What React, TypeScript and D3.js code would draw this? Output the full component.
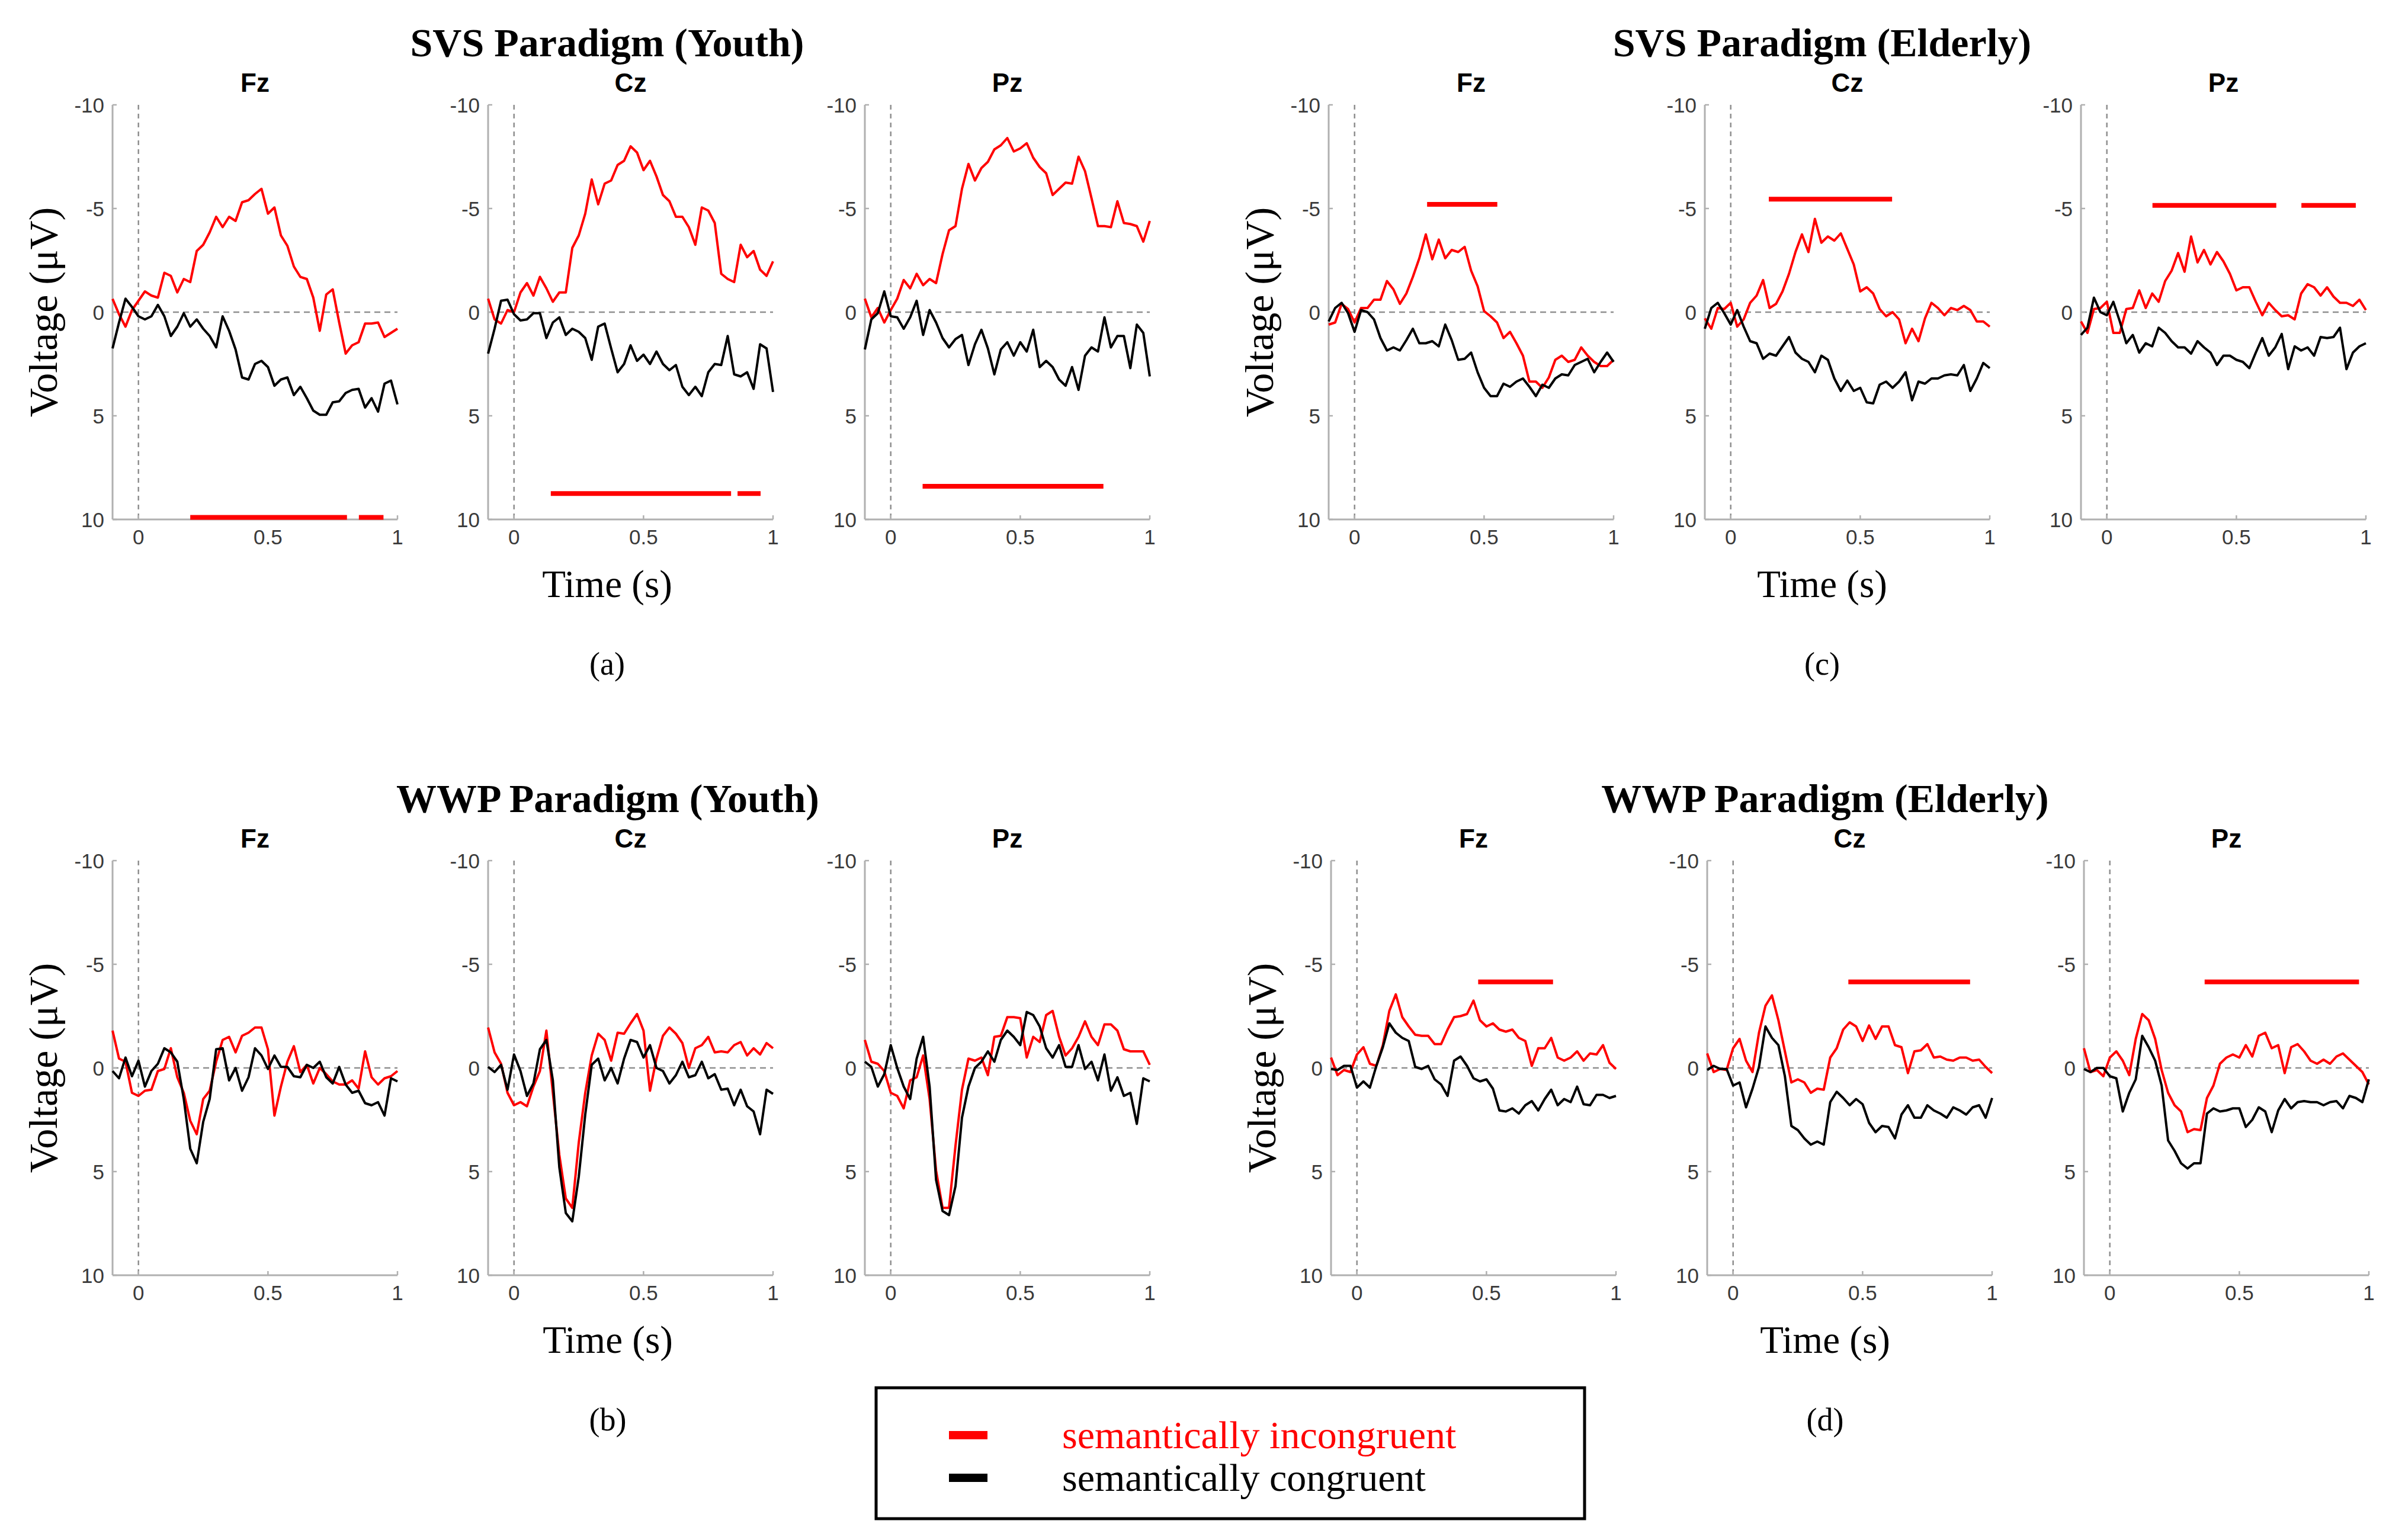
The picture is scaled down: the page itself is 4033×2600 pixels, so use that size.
import { useEffect } from "react";
import * as d3 from "d3";

// sample times (s), one every 25 ms
const times = [
  -0.1, -0.075, -0.05, -0.025, 0, 0.025, 0.05, 0.075, 0.1, 0.125, 0.15, 0.175,
  0.2, 0.225, 0.25, 0.275, 0.3, 0.325, 0.35, 0.375, 0.4, 0.425, 0.45, 0.475,
  0.5, 0.525, 0.55, 0.575, 0.6, 0.625, 0.65, 0.675, 0.7, 0.725, 0.75, 0.775,
  0.8, 0.825, 0.85, 0.875, 0.9, 0.925, 0.95, 0.975, 1.0,
];

const channels = ["Fz", "Cz", "Pz"];
const yTicks = [-10, -5, 0, 5, 10];
const xTicks = [0, 0.5, 1];
const groupTitles = [
  "SVS Paradigm (Youth)",
  "SVS Paradigm (Elderly)",
  "WWP Paradigm (Youth)",
  "WWP Paradigm (Elderly)",
];
const groupTags = ["(a)", "(c)", "(b)", "(d)"];
const legendLabels = ["semantically incongruent", "semantically congruent"];

// ---- SVS youth (µV) ----
const svsYouthFzInc = [-0.64, 0.1, 0.7, -0.1, -0.55, -1.0, -0.8, -0.7, -1.9, -1.75, -0.95, -1.6, -1.45, -2.95, -3.25, -3.85, -4.6, -4.1, -4.6, -4.4, -5.3, -5.4, -5.7, -5.95, -4.75, -5.05, -3.7, -3.2, -2.2, -1.7, -1.6, -0.7, 0.9, -0.85, -1.1, 0.5, 2.0, 1.6, 1.45, 0.55, 0.55, 0.5, 1.2, 1.0, 0.8];
const svsYouthFzCon = [1.75, 0.5, -0.65, -0.25, 0.2, 0.35, 0.2, -0.35, 0.2, 1.15, 0.7, 0.05, 0.7, 0.35, 0.8, 1.15, 1.7, 0.2, 0.9, 1.8, 3.15, 3.25, 2.5, 2.35, 2.65, 3.55, 3.25, 3.15, 4.0, 3.6, 4.15, 4.75, 4.95, 4.95, 4.35, 4.3, 3.9, 3.75, 3.7, 4.6, 4.15, 4.8, 3.45, 3.3, 4.45];
const svsYouthCzInc = [-0.65, 0.35, 0.55, -0.1, 0, -0.95, -1.4, -0.8, -1.7, -1.15, -0.5, -0.95, -0.95, -3.1, -3.7, -4.75, -6.4, -5.2, -6.2, -6.35, -7.1, -7.3, -8.0, -7.7, -6.85, -7.3, -6.55, -5.65, -5.35, -4.6, -4.6, -4.1, -3.25, -5.05, -4.9, -4.3, -1.85, -1.6, -1.45, -3.25, -2.65, -2.95, -2.05, -1.75, -2.45];
const svsYouthCzCon = [2.0, 0.8, -0.55, -0.6, 0.1, 0.4, 0.35, 0.05, 0.05, 1.25, 0.5, 0.25, 1.1, 0.8, 0.95, 1.25, 2.3, 0.7, 0.55, 1.75, 2.9, 2.5, 1.6, 2.35, 2.05, 2.5, 1.9, 2.5, 2.8, 2.55, 3.6, 4.0, 3.6, 4.05, 2.9, 2.5, 2.55, 1.15, 3.0, 3.1, 2.9, 3.7, 1.55, 1.75, 3.85];
const svsYouthPzInc = [-0.65, 0.25, -0.2, 0.5, -0.1, -0.65, -1.55, -1.15, -1.85, -1.3, -1.6, -1.4, -2.8, -3.95, -4.15, -5.95, -7.15, -6.35, -6.95, -7.25, -7.85, -8.05, -8.4, -7.75, -7.9, -8.15, -7.45, -7.0, -6.7, -5.65, -5.95, -6.25, -6.2, -7.5, -6.8, -5.5, -4.15, -4.15, -4.1, -5.35, -4.3, -4.25, -4.15, -3.4, -4.4];
const svsYouthPzCon = [1.8, 0.35, 0.05, -1.0, 0.2, 0.25, 0.8, 0.25, -0.55, 1.1, -0.1, 0.5, 1.25, 1.7, 1.3, 1.1, 2.55, 1.55, 0.85, 1.75, 3.0, 1.8, 1.45, 2.1, 1.45, 1.9, 0.85, 2.65, 2.35, 2.65, 3.25, 3.55, 2.65, 3.75, 2.1, 1.7, 1.9, 0.25, 1.7, 1.15, 1.15, 2.7, 0.6, 1.0, 3.1];

// ---- SVS elderly ----
const svsElderFzInc = [0.6, 0.5, -0.4, -0.15, 0.5, -0.2, -0.2, -0.6, -0.6, -1.5, -1.1, -0.4, -0.9, -1.7, -2.6, -3.75, -2.55, -3.5, -2.6, -3.0, -2.9, -3.15, -2.0, -1.25, -0.05, 0.2, 0.5, 1.25, 0.95, 1.5, 2.1, 3.35, 3.35, 3.65, 3.15, 2.3, 2.1, 2.4, 2.3, 1.7, 2.1, 2.4, 2.6, 2.6, 2.3];
const svsElderFzCon = [0.45, -0.2, -0.45, 0.05, 0.95, -0.1, 0, 0.35, 1.25, 1.85, 1.7, 1.85, 1.35, 0.8, 1.5, 1.5, 1.4, 1.65, 0.6, 1.35, 2.3, 2.25, 1.95, 2.9, 3.65, 4.05, 4.05, 3.45, 3.6, 3.35, 3.2, 3.6, 4.05, 3.5, 3.65, 3.2, 3.0, 3.05, 2.55, 2.4, 2.25, 2.9, 2.4, 1.95, 2.4];
const svsElderCzInc = [0.3, 0.8, -0.2, -0.15, -0.45, 0.7, 0.35, -0.45, -0.8, -1.55, -0.2, -0.4, -1.0, -1.85, -2.9, -3.75, -2.9, -4.5, -3.35, -3.65, -3.45, -3.8, -3.05, -2.3, -1.0, -1.2, -0.9, -0.15, 0.2, 0, 0.35, 1.5, 0.8, 1.4, 0.3, -0.45, -0.2, 0.15, -0.2, -0.1, -0.3, -0.1, 0.45, 0.45, 0.7];
const svsElderCzCon = [0.8, -0.2, -0.45, 0.05, 0.6, -0.1, 0.7, 1.4, 1.5, 2.25, 2.0, 2.1, 1.65, 1.2, 1.95, 2.25, 2.4, 2.9, 2.1, 2.3, 3.2, 3.8, 3.3, 3.8, 3.65, 4.35, 4.4, 3.5, 3.35, 3.65, 3.35, 2.9, 4.25, 3.35, 3.45, 3.2, 3.2, 3.05, 3.0, 3.05, 2.55, 3.8, 3.2, 2.45, 2.7];
const svsElderPzInc = [0.45, 1.0, -0.15, -0.2, -0.5, 1.0, 1.0, -0.15, -0.2, -1.05, -0.2, -0.9, -0.5, -1.5, -2.0, -2.85, -1.95, -3.65, -2.4, -3.0, -2.3, -2.9, -2.45, -1.85, -1.05, -1.2, -1.2, -0.5, 0.15, -0.45, -0.1, 0.2, 0.15, 0.35, -0.9, -1.35, -1.2, -0.8, -1.2, -0.75, -0.45, -0.45, -0.3, -0.6, -0.1];
const svsElderPzCon = [1.1, 0.75, -0.7, 0, 0.15, -0.5, 0.45, 1.5, 1.1, 1.95, 1.5, 1.65, 0.75, 1.0, 1.4, 1.7, 1.7, 2.0, 1.4, 1.7, 1.95, 2.55, 2.1, 2.1, 2.3, 2.4, 2.7, 1.95, 1.25, 2.1, 1.7, 1.05, 2.75, 1.65, 1.85, 1.7, 2.1, 1.2, 1.25, 1.2, 0.75, 2.75, 1.95, 1.65, 1.5];

// ---- WWP youth ----
const wwpYouthFzInc = [-1.8, -0.45, -0.3, 1.2, 1.35, 1.1, 1.05, 0.15, 0.05, -0.95, 0.45, 1.2, 2.55, 3.2, 1.5, 1.1, -0.3, -1.35, -1.5, -0.75, -1.55, -1.7, -1.95, -1.95, -0.9, 2.3, 0.9, -0.3, -1.05, 0.2, -0.15, 0.75, 0, 0.3, 0.65, 0.8, 0.8, 0.6, 1.0, -0.8, 0.45, 0.8, 0.5, 0.4, 0.15];
const wwpYouthFzCon = [0.15, 0.5, -0.5, 0.4, -0.35, 0.9, 0.15, -0.2, -0.95, -0.75, -0.3, 1.5, 3.9, 4.6, 2.6, 1.5, -0.9, -0.95, 0.6, 0, 1.1, 0.45, -0.95, -0.6, 0.05, -0.6, -0.05, -0.05, 0.4, 0.45, -0.15, 0, -0.3, 0.45, 0.75, -0.05, 0.8, 1.2, 1.1, 1.7, 1.8, 1.65, 2.3, 0.5, 0.65];
const wwpYouthCzInc = [-1.95, -0.75, -0.2, 1.2, 1.8, 1.65, 1.85, 0.9, 0.15, -1.8, 1.2, 4.2, 6.3, 6.75, 3.6, 1.2, -0.6, -1.65, -1.35, -0.35, -1.7, -1.65, -2.15, -2.6, -1.8, 1.1, -0.45, -1.55, -1.95, -1.65, -1.2, 0, -0.95, -1.1, -1.5, -0.75, -0.8, -0.75, -1.1, -1.25, -0.6, -0.95, -0.65, -1.2, -0.95];
const wwpYouthCzCon = [-0.05, 0.2, -0.15, 1.05, -0.65, 0.15, 1.35, 0.75, -0.9, -1.35, 0.6, 4.8, 7.0, 7.4, 5.25, 2.25, -0.15, -0.45, 0.6, 0, 0.75, -0.45, -1.35, -1.25, -0.5, -1.1, 0, 0.15, 0.75, 0.35, -0.3, 0.45, 0.35, -0.3, 0.5, 0.3, 1.05, 1.0, 1.8, 1.05, 1.85, 2.1, 3.2, 1.05, 1.25];
const wwpYouthPzInc = [-1.35, -0.3, -0.2, 0.15, 1.2, 1.35, 1.95, 0.6, 0.45, -0.6, 1.5, 4.95, 6.75, 6.75, 3.75, 1.05, -0.45, -0.35, -0.5, 0.35, -1.5, -1.55, -2.45, -2.45, -2.4, -0.5, -1.5, -1.25, -2.55, -2.75, -1.5, -0.6, -0.95, -1.5, -2.25, -1.5, -1.1, -2.1, -2.1, -1.8, -0.9, -0.8, -0.8, -0.8, -0.15];
const wwpYouthPzCon = [-0.3, -0.05, 0.9, 0.3, -1.1, 0, 0.9, 1.5, -0.45, -1.5, 0.9, 5.4, 6.9, 7.1, 5.7, 2.4, 0.9, 0, -0.3, -0.8, -0.3, -1.35, -1.8, -1.5, -1.1, -2.7, -2.55, -2.0, -0.95, -0.5, -1.1, -0.05, -0.05, -1.1, 0.05, -0.3, 0.6, -0.65, 1.1, 0.45, 1.35, 1.2, 2.7, 0.5, 0.65];

// ---- WWP elderly ----
const wwpElderFzInc = [-0.5, 0.35, 0.1, 0.2, -0.65, -1.0, -0.2, -0.1, -1.1, -2.75, -3.55, -2.45, -2.0, -1.6, -1.55, -1.55, -1.15, -1.15, -1.85, -2.45, -2.5, -2.6, -3.25, -2.3, -2.0, -2.15, -1.85, -1.75, -1.85, -1.45, -1.3, -0.1, -0.95, -0.95, -1.45, -0.5, -0.35, -0.5, -0.8, -0.35, -0.7, -0.65, -1.1, -0.25, 0.05];
const wwpElderFzCon = [0.05, 0.1, -0.1, -0.1, 0.95, 0.65, 0.95, -0.1, -1.0, -2.15, -1.7, -1.45, -1.3, -0.05, 0.05, -0.1, 0.55, 0.8, 1.35, -0.35, -0.55, -0.1, 0.5, 0.65, 0.55, 1.0, 2.05, 2.1, 1.95, 2.2, 1.8, 1.6, 2.05, 1.5, 1.05, 1.8, 1.5, 1.65, 0.9, 1.75, 1.8, 1.3, 1.3, 1.45, 1.35];
const wwpElderCzInc = [-0.7, 0.2, 0.05, 0.1, -0.95, -1.4, -0.35, 0.2, -1.7, -3.0, -3.5, -2.3, -0.8, 0.7, 0.55, 0.7, 1.2, 1.0, 1.05, -0.5, -0.95, -1.85, -2.2, -2.0, -1.3, -2.05, -1.4, -2.0, -2.0, -1.1, -1.0, 0.25, -0.8, -0.85, -1.15, -0.5, -0.55, -0.4, -0.35, -0.5, -0.5, -0.35, -0.4, -0.05, 0.25];
const wwpElderCzCon = [0.1, -0.1, 0.05, 0.05, 0.85, 0.7, 1.9, 1.0, -0.05, -2.0, -1.45, -1.1, 0.4, 2.8, 3.0, 3.4, 3.7, 3.55, 3.7, 1.65, 1.15, 1.45, 1.8, 1.5, 1.75, 2.65, 3.1, 2.8, 2.85, 3.4, 2.25, 1.8, 2.4, 2.4, 1.8, 2.05, 2.2, 2.4, 1.9, 2.05, 2.25, 1.9, 1.8, 2.4, 1.45];
const wwpElderPzInc = [-0.95, 0.2, 0.1, 0.4, -0.5, -0.8, -0.35, 0.35, -1.4, -2.6, -2.3, -1.4, 0.1, 1.2, 1.8, 2.1, 3.1, 2.95, 3.0, 1.45, 0.85, -0.2, -0.5, -0.65, -0.5, -1.1, -0.55, -1.55, -1.7, -0.95, -1.1, 0.25, -1.0, -1.15, -0.8, -0.35, -0.2, -0.4, -0.2, -0.55, -0.7, -0.4, -0.1, 0.2, 0.8];
const wwpElderPzCon = [0.05, 0.2, 0, 0, 0.4, 0.5, 2.1, 1.2, 0.55, -1.55, -1.0, -0.35, 0.85, 3.5, 4.0, 4.6, 4.85, 4.6, 4.6, 2.2, 1.95, 2.1, 2.05, 1.95, 1.95, 2.85, 2.5, 1.9, 2.1, 3.1, 2.05, 1.5, 1.95, 1.65, 1.6, 1.65, 1.65, 1.8, 1.65, 1.6, 1.95, 1.35, 1.45, 1.65, 0.55];

// significant intervals: [start s, end s, drawn at µV]
const svsYouthFzSig = [[0.2, 0.805, 9.9], [0.851, 0.946, 9.9]];
const svsYouthCzSig = [[0.142, 0.838, 8.75], [0.863, 0.952, 8.75]];
const svsYouthPzSig = [[0.123, 0.821, 8.4]];
const svsElderFzSig = [[0.28, 0.551, -5.2]];
const svsElderCzSig = [[0.147, 0.623, -5.45]];
const svsElderPzSig = [[0.176, 0.654, -5.15], [0.751, 0.961, -5.15]];
const wwpElderFzSig = [[0.468, 0.757, -4.15]];
const wwpElderCzSig = [[0.445, 0.915, -4.15]];
const wwpElderPzSig = [[0.366, 0.962, -4.15]];

type PanelData = { inc: number[]; con: number[]; sig: number[][] };

const groupPanels: PanelData[][] = [
  [
    { inc: svsYouthFzInc, con: svsYouthFzCon, sig: svsYouthFzSig },
    { inc: svsYouthCzInc, con: svsYouthCzCon, sig: svsYouthCzSig },
    { inc: svsYouthPzInc, con: svsYouthPzCon, sig: svsYouthPzSig },
  ],
  [
    { inc: svsElderFzInc, con: svsElderFzCon, sig: svsElderFzSig },
    { inc: svsElderCzInc, con: svsElderCzCon, sig: svsElderCzSig },
    { inc: svsElderPzInc, con: svsElderPzCon, sig: svsElderPzSig },
  ],
  [
    { inc: wwpYouthFzInc, con: wwpYouthFzCon, sig: [] },
    { inc: wwpYouthCzInc, con: wwpYouthCzCon, sig: [] },
    { inc: wwpYouthPzInc, con: wwpYouthPzCon, sig: [] },
  ],
  [
    { inc: wwpElderFzInc, con: wwpElderFzCon, sig: wwpElderFzSig },
    { inc: wwpElderCzInc, con: wwpElderCzCon, sig: wwpElderCzSig },
    { inc: wwpElderPzInc, con: wwpElderPzCon, sig: wwpElderPzSig },
  ],
];

// layout (px)
const W = 4033;
const H = 2600;
const PW = 481;
const PH = 700;
const layout = [
  { lefts: [190, 824, 1460], top: 177, cx: 1025 },
  { lefts: [2243, 2878, 3513], top: 177, cx: 3076 },
  { lefts: [190, 824, 1460], top: 1453, cx: 1026 },
  { lefts: [2247, 2882, 3518], top: 1453, cx: 3081 },
];

const SERIF = "'Liberation Serif', 'Times New Roman', serif";
const SANS = "'Liberation Sans', Arial, Helvetica, sans-serif";
const RED = "#ff0000";
const AXIS = "#b0b0b0";
const DASH = "#8f8f8f";

function Panel({
  left,
  top,
  name,
  data,
}: {
  left: number;
  top: number;
  name: string;
  data: PanelData;
}) {
  const x = d3.scaleLinear().domain([-0.1, 1]).range([left, left + PW]);
  // negative up, as is usual for ERPs
  const y = d3.scaleLinear().domain([-10, 10]).range([top, top + PH]);
  const line = d3
    .line<number>()
    .x((_, i) => x(times[i]))
    .y((v) => y(v));
  const bottom = y(10);

  return (
    <g>
      <text
        x={(x(-0.1) + x(1)) / 2}
        y={top - 22}
        textAnchor="middle"
        fontFamily={SANS}
        fontWeight="bold"
        fontSize={44}
        fill="#000"
      >
        {name}
      </text>

      {/* reference lines */}
      <line x1={x(0)} x2={x(0)} y1={y(-10)} y2={bottom} stroke={DASH} strokeWidth={2.5} strokeDasharray="8 7" />
      <line x1={x(-0.1)} x2={x(1)} y1={y(0)} y2={y(0)} stroke={DASH} strokeWidth={2.5} strokeDasharray="10 7" />

      {/* axes */}
      <line x1={x(-0.1)} x2={x(-0.1)} y1={y(-10)} y2={bottom} stroke={AXIS} strokeWidth={3} />
      <line x1={x(-0.1)} x2={x(1)} y1={bottom} y2={bottom} stroke={AXIS} strokeWidth={3} />
      {yTicks.map((t) => (
        <g key={`y${t}`}>
          <line x1={x(-0.1)} x2={x(-0.1) + 7} y1={y(t)} y2={y(t)} stroke={AXIS} strokeWidth={2.5} />
          <text
            x={x(-0.1) - 14}
            y={y(t)}
            dy="0.36em"
            textAnchor="end"
            fontFamily={SANS}
            fontSize={35}
            fill="#3a3a3a"
          >
            {t}
          </text>
        </g>
      ))}
      {xTicks.map((t) => (
        <g key={`x${t}`}>
          <line x1={x(t)} x2={x(t)} y1={bottom} y2={bottom - 7} stroke={AXIS} strokeWidth={2.5} />
          <text
            x={x(t)}
            y={bottom + 42}
            textAnchor="middle"
            fontFamily={SANS}
            fontSize={35}
            fill="#3a3a3a"
          >
            {t}
          </text>
        </g>
      ))}

      {/* traces */}
      <path d={line(data.inc) || ""} fill="none" stroke={RED} strokeWidth={4} strokeLinejoin="round" />
      <path d={line(data.con) || ""} fill="none" stroke="#000" strokeWidth={4} strokeLinejoin="round" />

      {/* significance bars */}
      {data.sig.map((s, i) => (
        <line
          key={i}
          x1={x(s[0])}
          x2={x(s[1])}
          y1={y(s[2])}
          y2={y(s[2])}
          stroke={RED}
          strokeWidth={8}
        />
      ))}
    </g>
  );
}

export default function App() {
  useEffect(() => {
    document.body.style.margin = "0";
  }, []);

  return (
    <svg width={W} height={H} viewBox={`0 0 ${W} ${H}`} style={{ display: "block", background: "#fff" }}>
      <rect x={0} y={0} width={W} height={H} fill="#fff" />
      {layout.map((g, gi) => {
        const bottom = g.top + PH;
        return (
          <g key={gi}>
            <text x={g.cx} y={g.top - 82} textAnchor="middle" fontFamily={SERIF} fontWeight="bold" fontSize={68}>
              {groupTitles[gi]}
            </text>
            <text
              transform={`translate(${g.lefts[0] - 118},${g.top + PH / 2}) rotate(-90)`}
              textAnchor="middle"
              dy="0.35em"
              fontFamily={SERIF}
              fontSize={68}
            >
              Voltage (μV)
            </text>
            <text x={g.cx} y={bottom + 131} textAnchor="middle" fontFamily={SERIF} fontSize={65}>
              Time (s)
            </text>
            <text x={g.cx} y={bottom + 262} textAnchor="middle" fontFamily={SERIF} fontSize={54}>
              {groupTags[gi]}
            </text>
            {channels.map((c, ci) => (
              <Panel key={c} left={g.lefts[ci]} top={g.top} name={c} data={groupPanels[gi][ci]} />
            ))}
          </g>
        );
      })}

      {/* legend */}
      <g>
        <rect x={1479} y={2343} width={1196} height={221} fill="#fff" stroke="#000" strokeWidth={5} />
        {legendLabels.map((lab, i) => (
          <g key={lab}>
            <line
              x1={1602}
              x2={1667}
              y1={2423 + i * 72}
              y2={2423 + i * 72}
              stroke={i === 0 ? RED : "#000"}
              strokeWidth={14}
            />
            <text
              x={1793}
              y={2423 + i * 72}
              dy="0.33em"
              fontFamily={SERIF}
              fontSize={66}
              fill={i === 0 ? RED : "#000"}
            >
              {lab}
            </text>
          </g>
        ))}
      </g>
    </svg>
  );
}
